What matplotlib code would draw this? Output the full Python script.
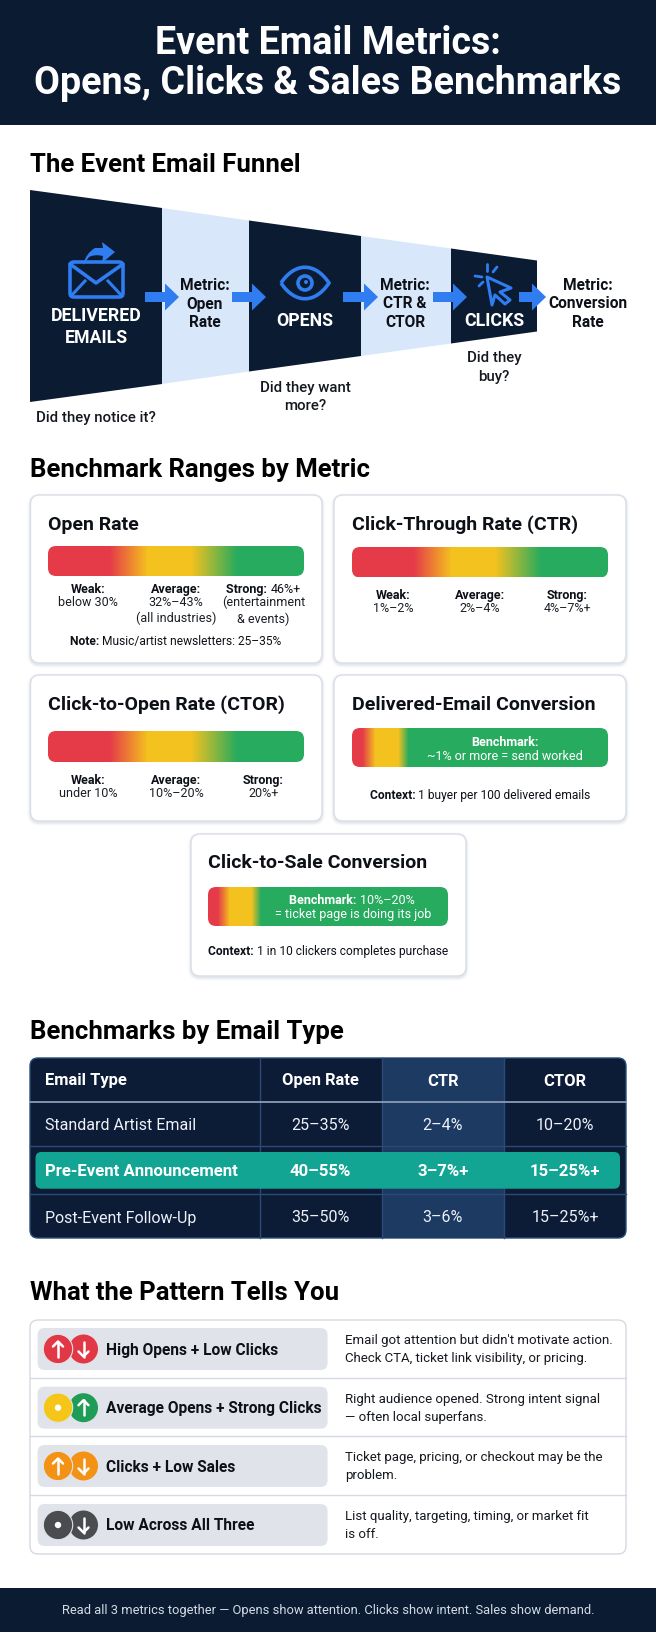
import numpy as np
import matplotlib.pyplot as plt
from matplotlib.colors import LinearSegmentedColormap
from matplotlib.patches import Circle, FancyBboxPatch, Polygon, Rectangle, PathPatch
from matplotlib.path import Path

W, H = 656, 1632
FONT = "Roboto"
NAVY = "#0b1b32"
BLUE = "#2f7df0"
INK = "#0d1117"

title_lines = ["Event Email Metrics:", "Opens, Clicks & Sales Benchmarks"]
section_titles = ["The Event Email Funnel", "Benchmark Ranges by Metric",
                  "Benchmarks by Email Type", "What the Pattern Tells You"]

# funnel: stage edges and the height of the funnel at each edge
funnel_edges = [30, 162, 249, 361, 451, 537]
funnel_heights = [212, 176, 151, 120, 95, 71]
funnel_stages = ["DELIVERED\nEMAILS", "OPENS", "CLICKS"]
funnel_metrics = ["Metric:\nOpen\nRate", "Metric:\nCTR &\nCTOR", "Metric:\nConversion\nRate"]
funnel_questions = ["Did they notice it?", "Did they want\nmore?", "Did they\nbuy?"]

card_titles = ["Open Rate", "Click-Through Rate (CTR)", "Click-to-Open Rate (CTOR)",
               "Delivered-Email Conversion", "Click-to-Sale Conversion"]
open_labels = [("Weak:", "", "below 30%"), ("Average:", "", "32%–43%\n(all industries)"),
               ("Strong: ", "46%+", "(entertainment\n& events)")]
ctr_labels = [("Weak:", "", "1%–2%"), ("Average:", "", "2%–4%"), ("Strong:", "", "4%–7%+")]
ctor_labels = [("Weak:", "", "under 10%"), ("Average:", "", "10%–20%"), ("Strong:", "", "20%+")]

table_header = ["Email Type", "Open Rate", "CTR", "CTOR"]
table_rows = [["Standard Artist Email", "25–35%", "2–4%", "10–20%"],
              ["Pre-Event Announcement", "40–55%", "3–7%+", "15–25%+"],
              ["Post-Event Follow-Up", "35–50%", "3–6%", "15–25%+"]]

pattern_names = ["High Opens + Low Clicks", "Average Opens + Strong Clicks",
                 "Clicks + Low Sales", "Low Across All Three"]
pattern_text = ["Email got attention but didn't motivate action.\nCheck CTA, ticket link visibility, or pricing.",
                "Right audience opened. Strong intent signal\n— often local superfans.",
                "Ticket page, pricing, or checkout may be the\nproblem.",
                "List quality, targeting, timing, or market fit\nis off."]
pattern_icons = [[("#e23744", "up"), ("#e23744", "down")],
                 [("#f5c518", "dot"), ("#1f9d57", "up")],
                 [("#f39214", "up"), ("#f39214", "down")],
                 [("#4a4c50", "dot"), ("#4a4c50", "down")]]
footer = "Read all 3 metrics together — Opens show attention. Clicks show intent. Sales show demand."

fig = plt.figure(figsize=(W / 100, H / 100), dpi=100)
ax = fig.add_axes([0, 0, 1, 1])
ax.set_xlim(0, W)
ax.set_ylim(H, 0)
ax.axis("off")


def txt(x, y, s, px, color=INK, weight="normal", ha="center", va="center", ls=1.2, z=10):
    # px is the em size in image pixels
    return ax.text(x, y + 1.5, s, fontsize=px * 0.72, color=color, fontweight=weight, ha=ha, va=va,
                   family=FONT, linespacing=ls, zorder=z)


def rrect(x0, y0, x1, y1, r, fc, ec="none", lw=0, z=2, alpha=None):
    p = FancyBboxPatch((x0 + r, y0 + r), x1 - x0 - 2 * r, y1 - y0 - 2 * r,
                       boxstyle=f"round,pad={r},rounding_size={r}",
                       fc=fc, ec=ec, lw=lw, zorder=z, alpha=alpha)
    ax.add_patch(p)
    return p


def arrow(x0, x1, y):
    hx = x1 - 14
    ax.add_patch(Polygon([(x0, y - 5), (hx, y - 5), (hx, y - 13.5), (x1, y), (hx, y + 13.5),
                          (hx, y + 5), (x0, y + 5)], fc=BLUE, ec="none", zorder=6))


def gradient_bar(x0, y0, x1, y1, stops):
    cmap = LinearSegmentedColormap.from_list("g", stops)
    im = ax.imshow(np.linspace(0, 1, 256)[None, :], cmap=cmap, extent=(x0, x1, y1, y0),
                   aspect="auto", zorder=4, vmin=0, vmax=1)
    im.set_clip_path(rrect(x0, y0, x1, y1, 8, "none", z=4))


def card(x0, y0, x1, y1):
    for grow, a in [(3, 0.03), (2, 0.05), (1, 0.07)]:
        rrect(x0 - grow, y0 - grow + 1.5, x1 + grow, y1 + grow + 1.5, 9 + grow, "#5a6b85", z=2, alpha=a)
    rrect(x0, y0, x1, y1, 9, "white", ec="#d9dee6", lw=1, z=3)


RED, YEL, GRN = "#e53b48", "#f4c21f", "#27ab5f"
wide_stops = [(0, RED), (0.24, RED), (0.39, YEL), (0.56, YEL), (0.74, GRN), (1, GRN)]
short_stops = [(0, RED), (0.04, RED), (0.09, YEL), (0.18, YEL), (0.22, GRN), (1, GRN)]

# header
ax.add_patch(Rectangle((0, 0), W, 125, fc=NAVY, ec="none", zorder=1))
txt(328, 41.5, title_lines[0], 37.6, "white", "bold")
txt(328, 82, title_lines[1], 37.6, "white", "bold")

for (y, s) in zip([163, 468, 1031, 1292], section_titles):
    txt(30, y, s, 25.8, "#000000", "bold", ha="left")

# funnel
mid = 296
for i in range(5):
    x0, x1 = funnel_edges[i], funnel_edges[i + 1]
    h0, h1 = funnel_heights[i], funnel_heights[i + 1]
    ax.add_patch(Polygon([(x0, mid - h0 / 2), (x1, mid - h1 / 2), (x1, mid + h1 / 2), (x0, mid + h0 / 2)],
                         fc=NAVY if i % 2 == 0 else "#d9e7fb", ec="none", zorder=2))
for x0, x1 in [(145, 179), (232, 266), (343, 378), (433, 467), (519, 546)]:
    arrow(x0, x1, 297)

# envelope icon
rrect(70, 262, 123, 297, 4, "none", ec=BLUE, lw=2.6, z=5)
ax.plot([70, 96, 123], [264, 283, 264], color=BLUE, lw=2.6, zorder=5, solid_capstyle="round")
ax.plot([71, 85], [296, 281], color=BLUE, lw=2.2, zorder=5)
ax.plot([122, 108], [296, 281], color=BLUE, lw=2.2, zorder=5)
ax.add_patch(PathPatch(Path([(83, 265), (86, 253), (95, 248), (103, 248), (102, 242), (115, 252), (102, 263),
                             (103, 256), (95, 254), (89, 257), (83, 265)],
                            [1, 3, 3, 2, 2, 2, 2, 2, 3, 3, 2]), fc=BLUE, ec="none", zorder=6))
# eye icon
ax.add_patch(PathPatch(Path([(281, 283), (295, 262), (315, 262), (329, 283), (315, 304), (295, 304), (281, 283)],
                            [1, 4, 4, 4, 4, 4, 4]), fc="none", ec=BLUE, lw=2.6, zorder=5))
ax.add_patch(Circle((305, 283), 7, fc="none", ec=BLUE, lw=2.6, zorder=5))
ax.add_patch(Circle((306, 282), 2, fc=BLUE, ec="none", zorder=5))
# cursor icon
ax.add_patch(Polygon([(487, 277), (511, 288), (500, 292), (510, 300), (505, 304), (495, 295), (492, 305)],
                     fc="none", ec=BLUE, lw=2.2, joinstyle="round", zorder=5))
for (xa, ya, xb, yb) in [(487, 264, 487, 271), (497, 267, 493, 272), (475, 276, 482, 277), (479, 286, 483, 282)]:
    ax.plot([xa, xb], [ya, yb], color=BLUE, lw=2, zorder=5, solid_capstyle="round")

for x, y, s in [(96, 325.5, funnel_stages[0]), (305, 319.5, funnel_stages[1]), (494, 319.5, funnel_stages[2])]:
    txt(x, y, s, 17.7, "white", "bold", ls=1.35)
for x, s in zip([205, 405, 588], funnel_metrics):
    txt(x, 302.5, s, 15.5, INK, "bold", ls=1.33)
for x, y, s in zip([96, 305, 494], [416.5, 395.5, 366], funnel_questions):
    txt(x, y, s, 15, "#15191f", "medium", ls=1.37)

# benchmark cards
card(30.5, 495, 322, 663)
card(334, 495, 626, 663)
card(30.5, 675, 322, 821)
card(334, 675, 626, 821)
card(191, 834, 466, 976)
for x, y, s in zip([48.5, 352, 48.5, 352, 208], [523.5, 523.5, 703.5, 703.5, 861.5], card_titles):
    txt(x, y, s, 19.5, INK, "bold", ha="left")
gradient_bar(48, 546, 304, 576, wide_stops)
gradient_bar(352, 547, 608, 577.5, wide_stops)
gradient_bar(48, 731, 304, 762, wide_stops)
gradient_bar(352, 728, 608, 767, short_stops)
gradient_bar(208, 887, 448, 926, short_stops)


def bold_regular(cx, y, head, body, px, color=INK):
    # head in bold then body in regular, centred together on cx
    a = txt(0, y, head, px, color, "bold", ha="left")
    b = txt(0, y, body, px, color, ha="left")
    r = fig.canvas.get_renderer()
    wa = a.get_window_extent(r).width
    wb = b.get_window_extent(r).width
    a.set_x(cx - (wa + wb) / 2)
    b.set_x(cx - (wa + wb) / 2 + wa)


def range_labels(cols, y, labels):
    for x, (head, tail, body) in zip(cols, labels):
        bold_regular(x, y, head, tail, 12.5)
        txt(x, y + 6.5, body, 12.5, "#1a1f26", va="top", ls=1.28)


range_labels([88, 176, 263.5], 588, open_labels)
range_labels([393, 480, 567], 594, ctr_labels)
range_labels([88, 176, 263.5], 779, ctor_labels)

bold_regular(176, 640, "Note: ", "Music/artist newsletters: 25–35%", 12)
bold_regular(480, 794, "Context: ", "1 buyer per 100 delivered emails", 12)
bold_regular(328, 950, "Context: ", "1 in 10 clickers completes purchase", 12)
txt(504.6, 741.5, "Benchmark:", 12.5, "white", "bold")
txt(504.6, 755.5, "~1% or more = send worked", 12.5, "white")
bold_regular(352, 899, "Benchmark: ", "10%–20%", 12.5, "white")
txt(353, 913, "= ticket page is doing its job", 12.5, "white")

# table
tbl = rrect(30, 1058, 626, 1238, 8, "#0c1b36", ec="#2c4a78", lw=1, z=2)
col_band = Rectangle((381.6, 1058), 122.4, 180, fc="#1d3a63", ec="none", zorder=2.5)
ax.add_patch(col_band)
col_band.set_clip_path(tbl)
for x in [259.5, 381.6, 504]:
    ax.plot([x, x], [1058, 1238], color="#2c4a78", lw=1, zorder=3)
ax.plot([30, 626], [1101.7, 1101.7], color="#8a9bb5", lw=1.3, zorder=3)
for y in [1145.7, 1194]:
    ax.plot([30, 626], [y, y], color="#2c4a78", lw=1, zorder=3)
rrect(35.5, 1152, 620, 1188.7, 6, "#13a594", z=4)
col_x = [45, 320.5, 442.7, 565]
for j, s in enumerate(table_header):
    txt(col_x[j], 1079.5, s, 16.5, "white", "bold", ha="left" if j == 0 else "center")
for row, y, weight in zip(table_rows, [1124, 1169.5, 1216.5], ["normal", "bold", "normal"]):
    for j, s in enumerate(row):
        size = 16.8 if weight == "bold" else 16
        txt(col_x[j], y, s, size, "white" if weight == "bold" else "#eef2f8", weight,
            ha="left" if j == 0 else "center")

# pattern list
rrect(30, 1320, 626, 1554, 8, "white", ec="#d5dae2", lw=1, z=2)
for y in [1378, 1436, 1495]:
    ax.plot([30, 626], [y, y], color="#d5dae2", lw=1, zorder=3)


def glyph(x, y, kind):
    if kind == "dot":
        ax.add_patch(Circle((x, y), 3.2, fc="white", ec="none", zorder=7))
        return
    d = -1 if kind == "up" else 1
    ax.plot([x, x], [y - 7.5 * d, y + 7.5 * d], color="white", lw=1.8, zorder=7, solid_capstyle="round")
    ax.plot([x - 5, x, x + 5], [y + 2.5 * d, y + 7.5 * d, y + 2.5 * d], color="white", lw=1.8, zorder=7,
            solid_capstyle="round", solid_joinstyle="round")


for i, cy in enumerate([1349, 1407.7, 1466, 1525]):
    rrect(37.6, cy - 21, 327.6, cy + 21, 7, "#e0e4ea", z=4)
    (c1, k1), (c2, k2) = pattern_icons[i]
    ax.add_patch(Circle((83.5, cy), 14.5, fc=c2, ec="none", zorder=5))
    ax.add_patch(Circle((58, cy), 14.7, fc=c1, ec="#e0e4ea", lw=0.8, zorder=6))
    glyph(58, cy, k1)
    glyph(83.5, cy, k2)
    txt(106, cy - 0.5, pattern_names[i], 15.5, INK, "bold", ha="left")
    txt(345, cy - 1, pattern_text[i], 13.2, "#15191f", ha="left", ls=1.5)

# footer
ax.add_patch(Rectangle((0, 1588), W, H - 1588, fc=NAVY, ec="none", zorder=1))
txt(328, 1609, footer, 12.9, "#d4dbe6")

ax.set_xlim(0, W)
ax.set_ylim(H, 0)
fig.savefig("out.png", dpi=100, facecolor="white")
